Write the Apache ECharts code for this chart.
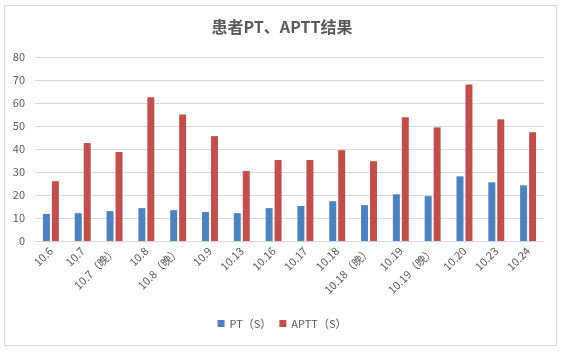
<!DOCTYPE html>
<html>
<head>
<meta charset="utf-8">
<script src="https://cdn.jsdelivr.net/npm/echarts@6/dist/echarts.min.js"></script>
<style>
  html, body { margin: 0; padding: 0; background: #fff; }
  #frame { position: absolute; left: 4px; top: 5px; width: 551px; height: 339px; border: 1px solid #d9d9d9; }
  #chart { width: 564px; height: 351px; position: absolute; left: 0; top: 0; }
</style>
</head>
<body>
<div id="frame"></div>
<div id="chart"></div>
<script>
const categories = ["10.6", "10.7", "10.7（晚）", "10.8", "10.8（晚）", "10.9", "10.13", "10.16", "10.17",
  "10.18", "10.18（晚）", "10.19", "10.19（晚）", "10.20", "10.23", "10.24"];
const ptValues = [11.8, 12.1, 13.0, 14.3, 13.4, 12.6, 12.1, 14.3, 15.2, 17.3, 15.6, 20.3, 19.5, 28.1, 25.5, 24.2];
const apttValues = [26.0, 42.6, 38.7, 62.5, 55.0, 45.6, 30.4, 35.2, 35.2, 39.5, 34.7, 53.8, 49.4, 68.0, 52.9, 47.3];
const yTicks = { min: 0, max: 80, interval: 10 };

const textColor = "#595959";
const font = "'Microsoft YaHei', 'Noto Sans CJK SC', 'DejaVu Sans', sans-serif";

const chart = echarts.init(document.getElementById("chart"));

chart.setOption({
  animation: false,
  title: {
    text: "患者PT、APTT结果",
    left: "center",
    top: 14,
    textStyle: { fontSize: 16, fontWeight: "bold", color: textColor, fontFamily: font }
  },
  grid: { left: 35, right: 20, top: 57, bottom: 110, containLabel: false },
  legend: {
    bottom: 17,
    left: "center",
    itemWidth: 7,
    itemHeight: 7,
    itemGap: 8,
    icon: "rect",
    textStyle: { fontSize: 11, color: textColor, fontFamily: font }
  },
  xAxis: {
    type: "category",
    data: categories,
    axisLine: { lineStyle: { color: "#d9d9d9" } },
    axisTick: { show: false },
    axisLabel: { rotate: 45, interval: 0, fontSize: 11, color: textColor, fontFamily: font, margin: 8 }
  },
  yAxis: {
    type: "value",
    min: yTicks.min,
    max: yTicks.max,
    interval: yTicks.interval,
    axisLine: { show: false },
    axisTick: { show: false },
    axisLabel: { fontSize: 11, color: textColor, fontFamily: font, margin: 10 },
    splitLine: { lineStyle: { color: "#d9d9d9" } }
  },
  series: [
    {
      name: "PT（S）",
      type: "bar",
      data: ptValues,
      barWidth: 7,
      barGap: "28%",
      itemStyle: { color: "#4f81bd" }
    },
    {
      name: "APTT（S）",
      type: "bar",
      data: apttValues,
      barWidth: 7,
      barGap: "28%",
      itemStyle: { color: "#c0504d" }
    }
  ]
});
</script>
</body>
</html>
